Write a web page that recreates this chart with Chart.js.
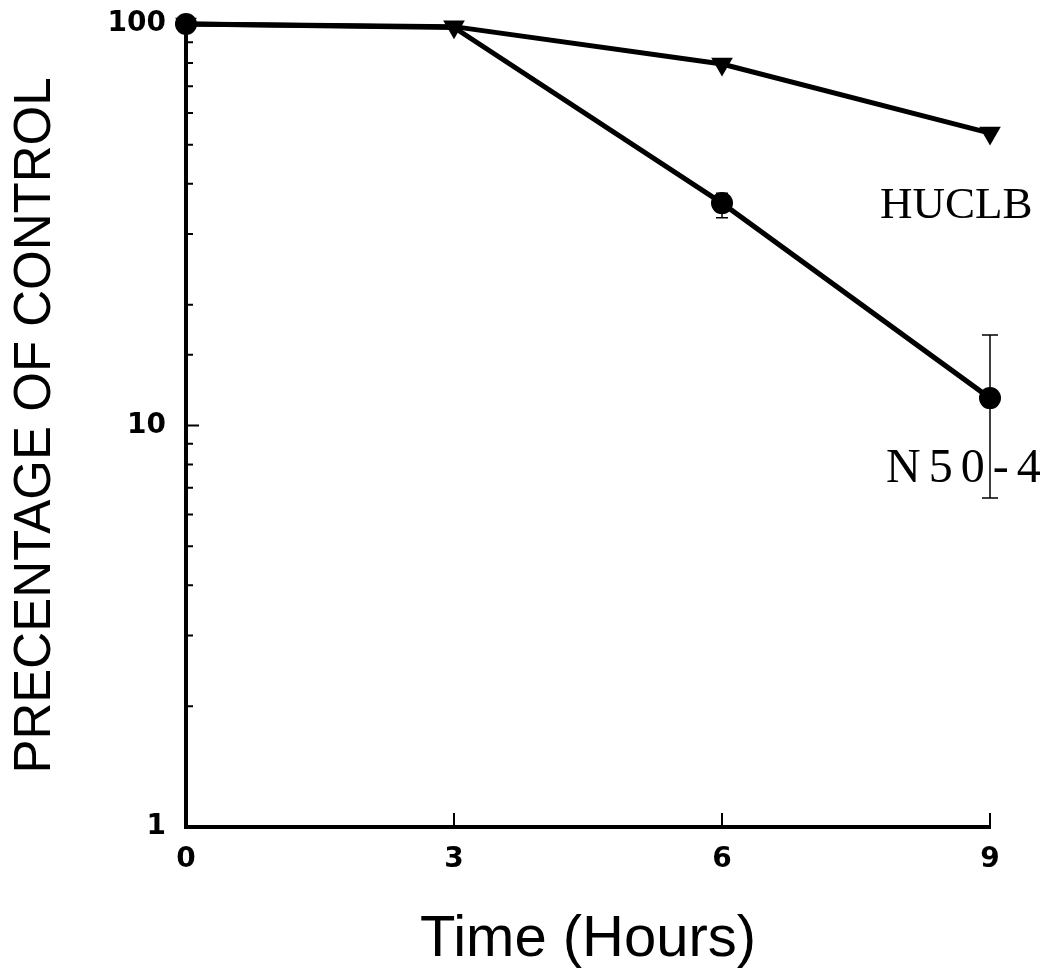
<!DOCTYPE html>
<html>
<head>
<meta charset="utf-8">
<script src="https://cdn.jsdelivr.net/npm/chart.js@4"></script>
<style>html, body { margin: 0; background: #fff; }</style>
</head>
<body>
<canvas id="myChart" width="1054" height="972"></canvas>
<script>
// values (log scale, percentage of control)
const hours = [0, 3, 6, 9];
const n50Values = [100, 98, 35.8, 11.7];
const n50Low = [null, null, 32.9, 6.6];
const n50High = [null, null, 37.9, 16.8];
const huclbValues = [100, 98.5, 79.5, 53.5];
const xTicks = [0, 3, 6, 9];
const yLabels = [1, 10, 100];

const toPoints = vals => vals.map((v, i) => ({ x: hours[i], y: v }));

// inward ticks, error bars and the curve names
const extras = {
  id: 'extras',
  afterDraw(chart) {
    const ctx = chart.ctx;
    const xs = chart.scales.x;
    const ys = chart.scales.y;
    const area = chart.chartArea;
    ctx.save();
    ctx.strokeStyle = '#000';
    ctx.lineWidth = 2;
    ctx.beginPath();
    ys.ticks.forEach(t => {
      const py = ys.getPixelForValue(t.value);
      const len = yLabels.includes(t.value) ? 13 : 7;
      ctx.moveTo(area.left, py);
      ctx.lineTo(area.left + len, py);
    });
    xs.ticks.forEach(t => {
      if (t.value === 0) return;
      const px = xs.getPixelForValue(t.value);
      ctx.moveTo(px, area.bottom);
      ctx.lineTo(px, area.bottom - 14);
    });
    ctx.stroke();

    ctx.lineWidth = 1.5;
    ctx.beginPath();
    hours.forEach((h, i) => {
      if (n50Low[i] == null) return;
      const px = xs.getPixelForValue(h);
      const top = ys.getPixelForValue(n50High[i]);
      const bot = ys.getPixelForValue(n50Low[i]);
      const cap = i === 3 ? 8 : 6;
      ctx.moveTo(px, top); ctx.lineTo(px, bot);
      ctx.moveTo(px - cap, top); ctx.lineTo(px + cap, top);
      ctx.moveTo(px - cap, bot); ctx.lineTo(px + cap, bot);
    });
    ctx.stroke();

    ctx.fillStyle = '#000';
    ctx.textBaseline = 'alphabetic';
    ctx.font = '45px "Liberation Serif", serif';
    ctx.fillText('HUCLB', 880, 218);
    ctx.font = '48px "Liberation Serif", serif';
    ctx.letterSpacing = '8px';
    ctx.fillText('N50-4', 886, 482);
    ctx.restore();
  }
};

const tickFont = { family: '"DejaVu Sans", sans-serif', size: 28, weight: 'bold' };

const noPad = s => {
  s.paddingTop = 0;
  s.paddingBottom = 0;
  s.paddingLeft = 0;
  s.paddingRight = 0;
};

new Chart(document.getElementById('myChart'), {
  type: 'line',
  data: {
    datasets: [{
      label: 'N50-4',
      data: toPoints(n50Values),
      borderColor: '#000',
      backgroundColor: '#000',
      borderWidth: 5,
      pointStyle: 'circle',
      pointRadius: [11, 0, 11, 11],
      pointBorderWidth: 0,
      tension: 0,
      clip: false
    }, {
      label: 'HUCLB',
      data: toPoints(huclbValues),
      borderColor: '#000',
      backgroundColor: '#000',
      borderWidth: 5,
      pointStyle: 'triangle',
      rotation: 180,
      pointRadius: 12.5,
      pointBorderWidth: 0,
      tension: 0,
      clip: false
    }]
  },
  options: {
    responsive: false,
    animation: false,
    devicePixelRatio: 1,
    layout: { padding: { left: 0, right: 64, top: 24, bottom: 0 } },
    plugins: { legend: { display: false }, tooltip: { enabled: false } },
    scales: {
      x: {
        type: 'linear',
        min: 0,
        max: 9,
        afterBuildTicks: s => { s.ticks = xTicks.map(v => ({ value: v })); },
        afterFit: s => { s.height = 145; noPad(s); },
        grid: { display: false, drawTicks: false },
        border: { display: true, width: 4, color: '#000' },
        ticks: { color: '#000', padding: 16, font: tickFont },
        title: {
          display: true,
          text: 'Time (Hours)',
          color: '#000',
          padding: { top: 0, bottom: 3 },
          font: { family: '"Liberation Sans", Arial, sans-serif', size: 58, lineHeight: 1 }
        }
      },
      y: {
        type: 'logarithmic',
        min: 1,
        max: 100,
        afterFit: s => { s.width = 186; noPad(s); },
        grid: { display: false, drawTicks: false },
        border: { display: true, width: 4, color: '#000' },
        ticks: {
          color: '#000',
          padding: 20,
          autoSkip: false,
          callback: v => yLabels.includes(v) ? String(v) : '',
          font: tickFont
        },
        title: {
          display: true,
          text: 'PRECENTAGE OF CONTROL',
          color: '#000',
          padding: { top: 10, bottom: 0 },
          font: { family: '"Liberation Sans", Arial, sans-serif', size: 51, lineHeight: 1 }
        }
      }
    }
  },
  plugins: [extras]
});
</script>
</body>
</html>
